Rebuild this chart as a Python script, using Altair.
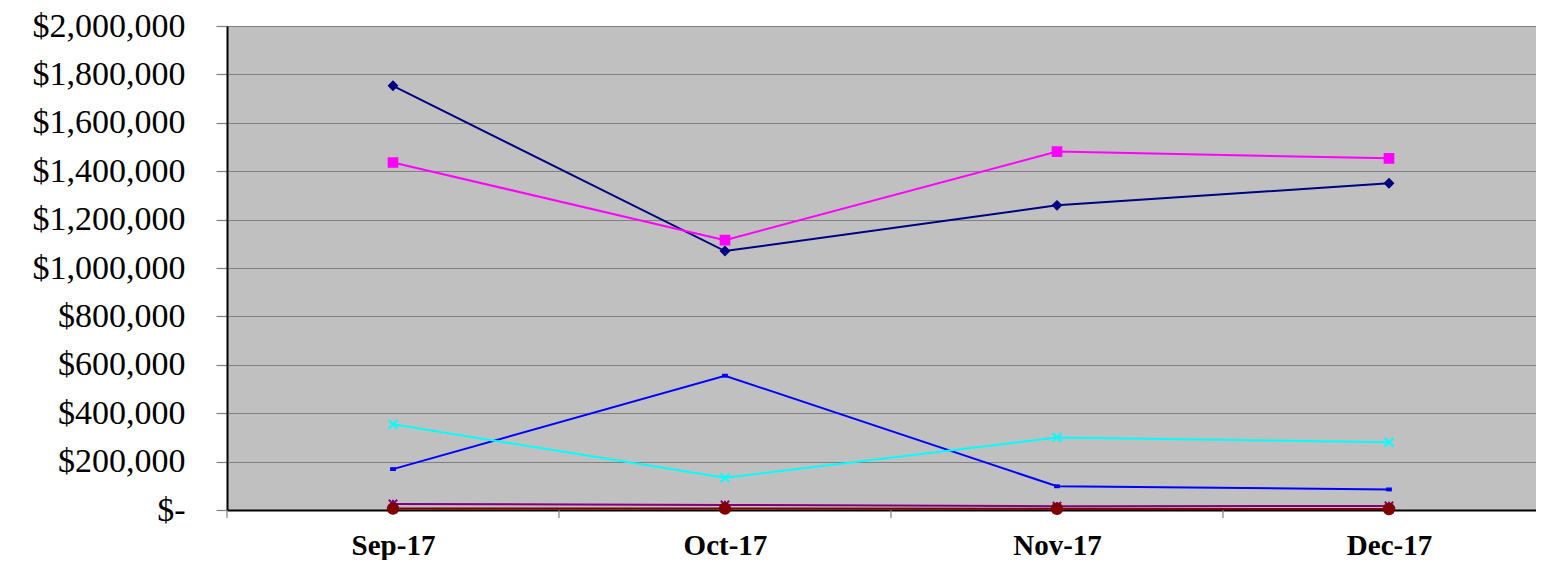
import altair as alt
import pandas as pd

months = ["Sep-17", "Oct-17", "Nov-17", "Dec-17"]
series_names = ["Series 1", "Series 2", "Series 3", "Series 4", "Series 5", "Series 6"]
s1 = [1753000, 1070000, 1259000, 1350000]
s2 = [1436000, 1115000, 1481000, 1453000]
s3 = [169000, 555000, 98000, 85000]
s4 = [354000, 133000, 300000, 280000]
s5 = [25000, 21000, 16000, 17000]
s6 = [6000, 6000, 5000, 4000]
colors = ["#000080", "#FF00FF", "#0000FF", "#00FFFF", "#800080", "#800000"]
shapes = [
    "diamond",
    "square",
    "M-1,-0.5L1,-0.5L1,0.5L-1,0.5Z",
    "M-1,-1L1,1M1,-1L-1,1",
    "M-1,-1L1,1M1,-1L-1,1M0,-1L0,1",
    "circle",
]
sizes = [65, 75, 14, 80, 70, 110]
y_ticks = [0, 200000, 400000, 600000, 800000, 1000000, 1200000, 1400000, 1600000, 1800000, 2000000]
between_ticks = [-0.5, 0.5, 1.5, 2.5]

rows = []
for name, vals in zip(series_names, [s1, s2, s3, s4, s5, s6]):
    for i, v in enumerate(vals):
        rows.append({"series": name, "idx": i, "month": months[i], "value": v})
df = pd.DataFrame(rows)
tick_df = pd.DataFrame({"t": between_ticks})

xscale = alt.Scale(domain=[-0.5, 3.4428], nice=False, zero=False)
yscale = alt.Scale(domain=[0, 2000000], nice=False)
cscale = alt.Scale(domain=series_names, range=colors)

label_expr = "['Sep-17','Oct-17','Nov-17','Dec-17'][datum.value]"
y_label_expr = "datum.value == 0 ? '$-\u00a0\u00a0\u2009' : '$' + format(datum.value, ',')"

x_enc = alt.X(
    "idx:Q",
    scale=xscale,
    title=None,
    axis=alt.Axis(
        values=[0, 1, 2, 3],
        labelExpr=label_expr,
        ticks=False,
        grid=False,
        domainColor="#000000",
        domainWidth=2,
        labelFont="Liberation Serif",
        labelFontSize=29,
        labelFontWeight="bold",
        labelColor="#000000",
        labelPadding=21,
    ),
)
y_enc = alt.Y(
    "value:Q",
    scale=yscale,
    title=None,
    axis=alt.Axis(
        values=y_ticks,
        labelExpr=y_label_expr,
        grid=True,
        gridColor="#808080",
        gridWidth=1.2,
        tickColor="#808080",
        tickSize=11,
        tickWidth=1.2,
        domainColor="#000000",
        domainWidth=2,
        labelFont="Liberation Serif",
        labelFontSize=34,
        labelColor="#000000",
        labelPadding=31,
    ),
)

lines = alt.Chart(df).mark_line(strokeWidth=2).encode(
    x=x_enc,
    y=y_enc,
    color=alt.Color("series:N", scale=cscale, legend=None),
    detail="series:N",
)

point_layers = []
for name, shp, sz, col in zip(series_names, shapes, sizes, colors):
    filled = not shp.startswith("M-1,-1")
    pts = alt.Chart(df).transform_filter(
        alt.datum.series == name
    ).mark_point(
        shape=shp, size=sz, filled=filled, color=col, stroke=col, strokeWidth=2, opacity=1
    ).encode(x=alt.X("idx:Q", scale=xscale), y=alt.Y("value:Q", scale=yscale))
    point_layers.append(pts)

ticks = alt.Chart(tick_df).mark_rule(color="#808080", strokeWidth=1.2).encode(
    x=alt.X("t:Q", scale=xscale),
    y=alt.value(484),
    y2=alt.value(492),
)

chart = alt.layer(lines, ticks, *point_layers).properties(
    width=1309,
    height=484,
    autosize=alt.AutoSizeParams(type="none"),
    padding={"left": 219, "top": 18, "right": 0, "bottom": 50},
    background="#FFFFFF",
).configure_view(fill="#C0C0C0", strokeWidth=0)

chart.save("out.html", embed_options={"renderer": "svg", "actions": False})
